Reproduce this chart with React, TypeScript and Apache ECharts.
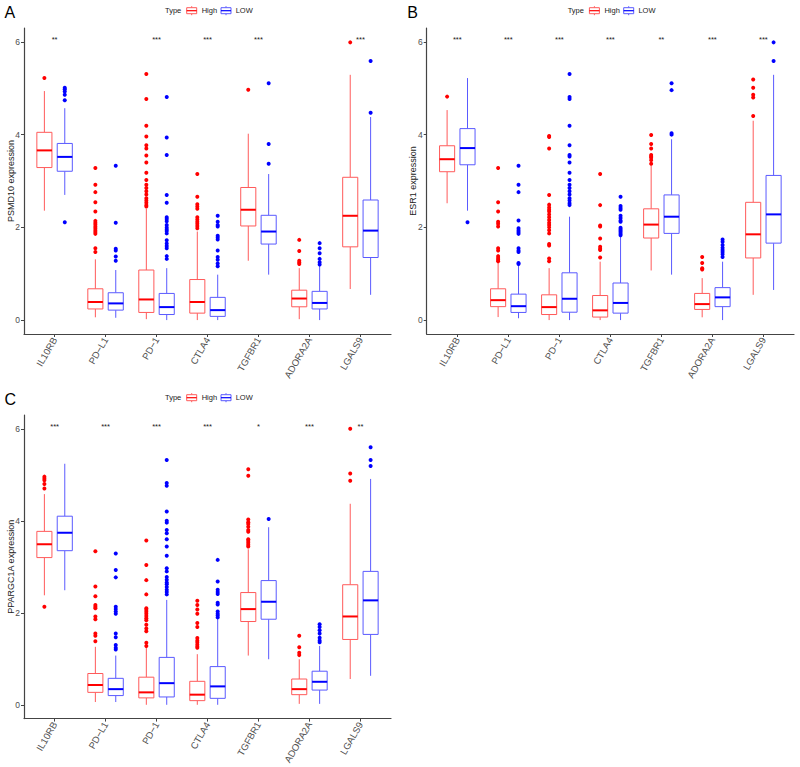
import React, { useEffect, useRef } from "react";
import * as echarts from "echarts";

const categories = ["IL10RB", "PD\u2212L1", "PD\u22121", "CTLA4", "TGFBR1", "ADORA2A", "LGALS9"];
const yTicks = [0, 2, 4, 6];
const panelLetters = ["A", "B", "C"];
const yTitles = ["PSMD10 expression", "ESR1 expression", "PPARGC1A expression"];
const groupNames = ["High", "LOW"];

// [whiskerLow, Q1, median, Q3, whiskerHigh]
const highBoxA = [
  [2.36, 3.29, 3.66, 4.05, 4.94],
  [0.06, 0.24, 0.39, 0.675, 1.31],
  [0.02, 0.165, 0.445, 1.08, 2.4],
  [0.0, 0.15, 0.39, 0.875, 1.91],
  [1.28, 2.03, 2.38, 2.86, 4.02],
  [0.02, 0.287, 0.465, 0.645, 1.12],
  [0.67, 1.58, 2.25, 3.08, 5.29],
];
const lowBoxA = [
  [2.7, 3.21, 3.52, 3.81, 4.57],
  [0.05, 0.215, 0.36, 0.59, 1.08],
  [0.0, 0.12, 0.28, 0.575, 1.12],
  [0.0, 0.08, 0.215, 0.49, 0.98],
  [0.98, 1.64, 1.91, 2.26, 3.15],
  [0.0, 0.24, 0.37, 0.62, 1.18],
  [0.545, 1.35, 1.93, 2.59, 4.38],
];
const highOutA = [
  [5.22],
  [3.28, 2.92, 2.76, 2.54, 2.34, 2.14, 2.1, 2.06, 2.02, 1.98, 1.94, 1.9, 1.86, 1.55, 1.47],
  [5.31, 4.77, 4.19, 3.96, 3.77, 3.7, 3.55, 3.4, 3.18, 3.02, 2.92, 2.85, 2.78, 2.71, 2.63, 2.58, 2.53, 2.48, 2.45],
  [3.15, 2.66, 2.5, 2.45, 2.4, 2.22, 2.17, 2.12, 2.08, 2.03, 1.98],
  [4.97],
  [1.73, 1.49, 1.28, 1.24, 1.21],
  [5.99],
];
const lowOutA = [
  [5.01, 4.98, 4.93, 4.86, 4.74, 2.11],
  [3.33, 2.1, 1.54, 1.5, 1.37, 1.28],
  [4.81, 3.94, 3.56, 2.7, 2.53, 2.22, 2.18, 2.13, 2.05, 2.0, 1.96, 1.92, 1.87, 1.72, 1.65, 1.6, 1.55, 1.38, 1.32],
  [2.25, 2.12, 2.05, 2.02, 1.82, 1.78, 1.74, 1.5, 1.36, 1.3, 1.22, 1.16],
  [5.11, 3.8, 3.37],
  [1.66, 1.55, 1.44, 1.32, 1.25, 1.2],
  [5.59, 4.47],
];
const starsA = ["**", "", "***", "***", "***", "", "***"];

const highBoxB = [
  [2.52, 3.2, 3.47, 3.76, 4.53],
  [0.065, 0.29, 0.43, 0.675, 1.3],
  [0.0, 0.12, 0.28, 0.545, 1.12],
  [0.0, 0.065, 0.21, 0.53, 1.26],
  [1.07, 1.77, 2.06, 2.4, 3.33],
  [0.06, 0.23, 0.345, 0.575, 0.905],
  [0.545, 1.34, 1.85, 2.54, 4.3],
];
const lowBoxB = [
  [2.36, 3.35, 3.71, 4.13, 5.22],
  [0.04, 0.165, 0.3, 0.56, 1.19],
  [0.0, 0.17, 0.46, 1.02, 2.23],
  [0.0, 0.15, 0.37, 0.8, 1.8],
  [0.98, 1.87, 2.23, 2.7, 3.9],
  [0.0, 0.29, 0.49, 0.7, 1.26],
  [0.65, 1.66, 2.28, 3.12, 5.29],
];
const highOutB = [
  [4.82],
  [3.28, 2.54, 2.34, 2.12, 2.08, 2.02, 1.55, 1.5, 1.38, 1.34, 1.3, 1.27],
  [3.97, 3.95, 3.7, 2.7, 2.49, 2.43, 2.38, 2.34, 2.28, 2.22, 2.16, 2.1, 2.05, 2.0, 1.94, 1.87, 1.64, 1.61, 1.33, 1.27],
  [3.15, 2.48, 2.04, 2.02, 1.76, 1.58, 1.54, 1.51, 1.35],
  [3.99, 3.8, 3.7, 3.56, 3.53, 3.5, 3.45, 3.37],
  [1.36, 1.23, 1.12, 1.09],
  [5.19, 5.01, 4.86, 4.8, 4.4],
];
const lowOutB = [
  [2.11],
  [3.33, 2.92, 2.76, 2.15, 1.98, 1.94, 1.9, 1.86, 1.55, 1.5, 1.47, 1.23, 1.21],
  [5.31, 4.81, 4.77, 4.19, 3.77, 3.56, 3.53, 3.4, 3.18, 3.02, 2.92, 2.85, 2.78, 2.71, 2.63, 2.58, 2.52, 2.48],
  [2.66, 2.46, 2.42, 2.38, 2.25, 2.2, 2.15, 2.12, 1.99, 1.96, 1.93, 1.9, 1.86, 1.83],
  [5.11, 4.96, 4.03, 4.0],
  [1.74, 1.69, 1.62, 1.56, 1.51, 1.47, 1.42, 1.36],
  [5.99, 5.59],
];
const starsB = ["***", "***", "***", "***", "**", "***", "***"];

const highBoxC = [
  [2.38, 3.2, 3.49, 3.77, 4.58],
  [0.06, 0.27, 0.43, 0.68, 1.26],
  [0.0, 0.15, 0.27, 0.6, 1.34],
  [0.0, 0.09, 0.22, 0.51, 1.1],
  [1.07, 1.81, 2.08, 2.44, 3.38],
  [0.02, 0.22, 0.34, 0.56, 0.99],
  [0.56, 1.42, 1.92, 2.61, 4.37],
];
const lowBoxC = [
  [2.49, 3.35, 3.74, 4.1, 5.24],
  [0.06, 0.2, 0.34, 0.575, 1.07],
  [0.0, 0.17, 0.47, 1.03, 2.28],
  [0.0, 0.14, 0.4, 0.83, 1.89],
  [0.99, 1.86, 2.24, 2.7, 3.86],
  [0.02, 0.32, 0.5, 0.73, 1.28],
  [0.63, 1.53, 2.27, 2.9, 4.91],
];
const highOutC = [
  [4.96, 4.92, 4.88, 4.8, 4.7, 2.13],
  [3.34, 2.57, 2.36, 2.17, 2.13, 2.1, 1.92, 1.86, 1.55, 1.5, 1.38],
  [3.57, 3.04, 2.71, 2.4, 2.1, 2.06, 2.02, 1.98, 1.93, 1.88, 1.84, 1.74, 1.66, 1.6, 1.35, 1.28],
  [2.26, 2.17, 2.07, 1.98, 1.78, 1.69, 1.45, 1.4, 1.36, 1.31, 1.27, 1.24],
  [5.12, 4.98, 4.03, 3.97, 3.93, 3.87, 3.8, 3.76, 3.6, 3.56, 3.52, 3.48, 3.44],
  [1.5, 1.25, 1.13, 1.08],
  [6.0, 5.03, 4.87],
];
const lowOutC = [
  [],
  [3.29, 2.93, 2.77, 2.13, 2.08, 2.03, 1.98, 1.55, 1.47, 1.3, 1.24, 1.2],
  [5.32, 4.82, 4.76, 4.2, 4.0, 3.96, 3.8, 3.73, 3.6, 3.44, 3.24, 2.97, 2.9, 2.78, 2.72, 2.66, 2.62, 2.56, 2.5, 2.45, 2.4],
  [3.15, 2.68, 2.5, 2.45, 2.41, 2.22, 2.18, 2.03, 1.98, 1.94, 1.9],
  [4.04],
  [1.75, 1.69, 1.62, 1.55, 1.46, 1.4, 1.36],
  [5.6, 5.32, 5.19],
];
const starsC = ["***", "***", "***", "***", "*", "***", "**"];

const panels = [
  { high: highBoxA, low: lowBoxA, highOut: highOutA, lowOut: lowOutA, stars: starsA },
  { high: highBoxB, low: lowBoxB, highOut: highOutB, lowOut: lowOutB, stars: starsB },
  { high: highBoxC, low: lowBoxC, highOut: highOutC, lowOut: lowOutC, stars: starsC },
];

const FONT = "'Liberation Sans', Arial, Helvetica, sans-serif";
const RED = "#ff0000";
const BLUE = "#0000ff";
const RED_LIGHT = "#ff5a5a";
const BLUE_LIGHT = "#5a5aff";
const DODGE = 0.2;
const BOX_HALF = 0.148;
const STAR_Y = 6.05;

const grids = [
  { left: 24, top: 28, width: 367, height: 306 },
  { left: 426.7, top: 28, width: 367.3, height: 306 },
  { left: 24, top: 415, width: 367, height: 306 },
];

function boxRenderer(offset: number, color: string, light: string) {
  return (params: any, api: any) => {
    const x = api.value(0) + offset;
    const unit = api.size([1, 0])[0];
    const half = BOX_HALF * unit;
    const pLow = api.coord([x, api.value(1)]);
    const pQ1 = api.coord([x, api.value(2)]);
    const pMed = api.coord([x, api.value(3)]);
    const pQ3 = api.coord([x, api.value(4)]);
    const pHigh = api.coord([x, api.value(5)]);
    return {
      type: "group",
      children: [
        { type: "line", shape: { x1: pLow[0], y1: pLow[1], x2: pQ1[0], y2: pQ1[1] }, style: { stroke: light, lineWidth: 1 } },
        { type: "line", shape: { x1: pQ3[0], y1: pQ3[1], x2: pHigh[0], y2: pHigh[1] }, style: { stroke: light, lineWidth: 1 } },
        {
          type: "rect",
          shape: { x: pQ3[0] - half, y: pQ3[1], width: 2 * half, height: pQ1[1] - pQ3[1] },
          style: { fill: "#ffffff", stroke: light, lineWidth: 1 },
        },
        {
          type: "line",
          shape: { x1: pMed[0] - half, y1: pMed[1], x2: pMed[0] + half, y2: pMed[1] },
          style: { stroke: color, lineWidth: 2 },
        },
      ],
    };
  };
}

function starRenderer(stars: string[]) {
  return (params: any, api: any) => {
    const p = api.coord([api.value(0), api.value(1)]);
    return {
      type: "text",
      x: p[0],
      y: p[1],
      style: {
        text: stars[params.dataIndex],
        font: `7.5px ${FONT}`,
        fill: "#1a1a1a",
        align: "center",
        verticalAlign: "middle",
        textAlign: "center",
        textVerticalAlign: "middle",
      },
    };
  };
}

function legendIcon(cx: number, cy: number, color: string, light: string) {
  return {
    type: "group",
    x: cx,
    y: cy,
    children: [
      { type: "line", shape: { x1: 0, y1: -4.5, x2: 0, y2: -3 }, style: { stroke: light, lineWidth: 1 } },
      { type: "line", shape: { x1: 0, y1: 3, x2: 0, y2: 4.5 }, style: { stroke: light, lineWidth: 1 } },
      { type: "rect", shape: { x: -5, y: -3, width: 10, height: 6 }, style: { fill: "#fff", stroke: light, lineWidth: 1 } },
      { type: "line", shape: { x1: -5, y1: 0, x2: 5, y2: 0 }, style: { stroke: color, lineWidth: 1.2 } },
    ],
  };
}

function legendText(x: number, y: number, text: string) {
  return {
    type: "text",
    x,
    y,
    style: {
      text,
      font: `7.5px ${FONT}`,
      fill: "#1a1a1a",
      align: "left",
      verticalAlign: "middle",
      textAlign: "left",
      textVerticalAlign: "middle",
    },
  };
}

export default function App() {
  const ref = useRef<HTMLDivElement>(null);
  useEffect(() => {
    if (!ref.current) return;
    const chart = echarts.init(ref.current, null, { renderer: "svg" });
    const xAxes: any[] = [];
    const yAxes: any[] = [];
    const series: any[] = [];
    const graphic: any[] = [];
    const catIdx = categories.map((_, i) => i);

    panels.forEach((pd, g) => {
      const gr = grids[g];
      xAxes.push({
        type: "value",
        gridIndex: g,
        min: -0.6,
        max: 6.6,
        splitLine: { show: false },
        axisLine: { show: true, onZero: false, lineStyle: { color: "#444", width: 1.2 } },
        axisTick: { show: true, customValues: catIdx, length: 3, lineStyle: { color: "#444" } },
        axisLabel: {
          customValues: catIdx,
          formatter: (v: number) => categories[Math.round(v)],
          rotate: 60,
          margin: 4,
          fontSize: 9.5,
          color: "#4d4d4d",
          fontFamily: FONT,
        },
      });
      yAxes.push({
        type: "value",
        gridIndex: g,
        min: -0.3,
        max: 6.3,
        splitLine: { show: false },
        axisLine: { show: true, onZero: false, lineStyle: { color: "#444", width: 1.2 } },
        axisTick: { show: true, customValues: yTicks, length: 3, lineStyle: { color: "#444" } },
        axisLabel: { customValues: yTicks, margin: 4, fontSize: 8.5, color: "#4d4d4d", fontFamily: FONT },
        name: yTitles[g],
        nameLocation: "middle",
        nameGap: 9,
        nameMoveOverlap: false,
        nameTextStyle: { fontSize: 9, color: "#1a1a1a", fontFamily: FONT },
      });

      const boxes = [pd.high, pd.low];
      const outs = [pd.highOut, pd.lowOut];
      const colors = [RED, BLUE];
      const lights = [RED_LIGHT, BLUE_LIGHT];
      const offsets = [-DODGE, DODGE];
      for (let s = 0; s < 2; s++) {
        series.push({
          type: "custom",
          name: groupNames[s],
          xAxisIndex: g,
          yAxisIndex: g,
          renderItem: boxRenderer(offsets[s], colors[s], lights[s]),
          encode: { x: 0, y: [1, 2, 3, 4, 5] },
          data: boxes[s].map((b, i) => [i, ...b]),
          silent: true,
        });
      }
      for (let s = 0; s < 2; s++) {
        const data: number[][] = [];
        outs[s].forEach((arr, i) => arr.forEach((v) => data.push([i + offsets[s], v])));
        series.push({
          type: "scatter",
          name: groupNames[s] + " outliers",
          xAxisIndex: g,
          yAxisIndex: g,
          symbolSize: 4,
          itemStyle: { color: colors[s], opacity: 1 },
          data,
          silent: true,
        });
      }
      series.push({
        type: "custom",
        name: "sig",
        xAxisIndex: g,
        yAxisIndex: g,
        renderItem: starRenderer(pd.stars),
        encode: { x: 0, y: 1 },
        data: pd.stars.map((_, i) => [i, STAR_Y]),
        silent: true,
      });

      // panel letter
      graphic.push({
        type: "text",
        x: gr.left - 19.5,
        y: gr.top - 15.5,
        style: {
          text: panelLetters[g],
          font: `16px ${FONT}`,
          fill: "#000",
          align: "left",
          verticalAlign: "middle",
          textAlign: "left",
          textVerticalAlign: "middle",
        },
      });
      // legend
      const ly = gr.top - 17.3;
      graphic.push(legendText(gr.left + 141, ly, "Type"));
      graphic.push(legendIcon(gr.left + 167.7, ly, RED, RED_LIGHT));
      graphic.push(legendText(gr.left + 177.7, ly, groupNames[0]));
      graphic.push(legendIcon(gr.left + 202, ly, BLUE, BLUE_LIGHT));
      graphic.push(legendText(gr.left + 211.7, ly, groupNames[1]));
    });

    chart.setOption({
      animation: false,
      backgroundColor: "#ffffff",
      textStyle: { fontFamily: FONT },
      grid: grids.map((g) => ({ ...g, containLabel: false })),
      xAxis: xAxes,
      yAxis: yAxes,
      series,
      graphic,
    });
    return () => chart.dispose();
  }, []);
  return <div ref={ref} style={{ position: "absolute", left: 0, top: 0, width: 800, height: 767 }} />;
}
